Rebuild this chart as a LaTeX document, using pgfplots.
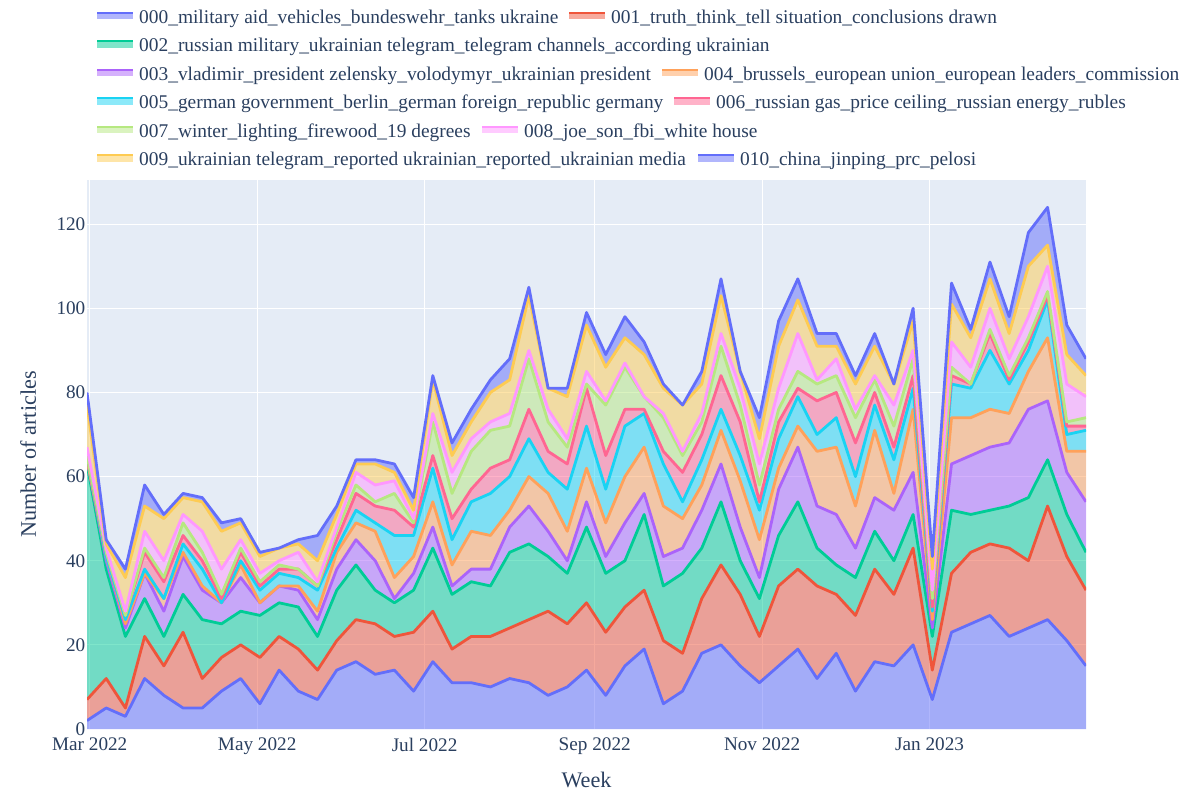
\documentclass[border=0pt]{standalone}
\usepackage{fontspec}
\setmainfont{Liberation Serif}
\usepackage{pgfplots}
\pgfplotsset{compat=1.18}
\usepackage{pgfplotstable}
\usepgfplotslibrary{fillbetween}

\definecolor{bgc}{HTML}{E5ECF6}
\definecolor{txt}{HTML}{2A3F5F}
\definecolor{k0}{HTML}{636EFA}
\definecolor{k1}{HTML}{EF553B}
\definecolor{k2}{HTML}{00CC96}
\definecolor{k3}{HTML}{AB63FA}
\definecolor{k4}{HTML}{FFA15A}
\definecolor{k5}{HTML}{19D3F3}
\definecolor{k6}{HTML}{FF6692}
\definecolor{k7}{HTML}{B6E880}
\definecolor{k8}{HTML}{FF97FF}
\definecolor{k9}{HTML}{FECB52}
\definecolor{k10}{HTML}{636EFA}

% d = days since 1 Mar 2022 (weekly, Mondays); c0..c10 = stacked totals of topics 000..010
\pgfplotstableread{
d c0 c1 c2 c3 c4 c5 c6 c7 c8 c9 c10
-1 2 7 63 64 64 65 65 65 67 77 80
6 5 12 38 40 41 41 42 42 43 44 45
13 3 5 22 24 25 26 27 27 28 36 38
20 12 22 31 37 37 38 42 43 47 53 58
27 8 15 22 28 31 31 35 36 40 50 51
34 5 23 32 41 42 44 46 49 51 55 56
41 5 12 26 33 34 38 40 42 47 54 55
48 9 17 25 30 30 30 31 32 38 47 49
55 12 20 28 36 39 40 42 43 45 49 50
62 6 17 27 30 30 33 34 35 37 41 42
69 14 22 30 34 34 37 38 39 40 43 43
76 9 19 29 33 34 36 38 38 42 44 45
83 7 14 22 26 28 33 34 34 35 40 46
90 14 21 33 38 42 43 45 47 48 51 53
97 16 26 39 45 49 52 56 58 61 63 64
104 13 25 33 40 47 49 53 54 58 63 64
111 14 22 30 31 36 46 52 56 59 61 63
118 9 23 33 37 41 46 48 49 50 52 55
125 16 28 43 48 54 62 65 73 75 83 84
132 11 19 32 34 39 45 50 56 61 65 68
139 11 22 35 38 47 54 57 66 69 73 76
146 10 22 34 38 46 56 62 71 73 80 83
153 12 24 42 48 52 60 64 72 75 83 88
160 11 26 44 53 60 69 76 88 90 103 105
167 8 28 41 47 56 61 66 73 76 81 81
174 10 25 37 40 47 57 63 67 69 79 81
181 14 30 48 54 62 72 81 82 85 96 99
188 8 23 37 41 49 57 65 77 78 86 89
195 15 29 40 49 60 72 76 86 87 93 98
202 19 33 51 56 67 75 76 79 79 89 92
209 6 21 34 41 53 63 66 74 75 81 82
216 9 18 37 43 50 54 61 65 66 77 77
223 18 31 43 52 58 64 70 73 75 82 85
230 20 39 54 63 71 76 84 91 94 103 107
237 15 32 40 48 59 65 73 77 81 85 85
244 11 22 31 36 45 52 54 58 63 69 74
251 15 34 46 57 62 69 73 76 81 91 97
258 19 38 54 67 72 79 81 85 94 102 107
265 12 34 43 53 66 70 78 82 83 91 94
272 18 32 39 51 67 74 80 84 88 91 94
279 9 27 36 43 53 60 68 74 76 82 84
286 16 38 47 55 71 77 80 83 84 91 94
293 15 32 40 52 56 64 67 72 77 82 82
300 20 43 51 61 76 81 84 88 90 97 100
307 7 14 22 24 26 28 29 31 33 38 41
314 23 37 52 63 74 82 84 86 92 101 106
321 25 42 51 65 74 81 82 82 86 93 95
328 27 44 52 67 76 90 94 95 100 107 111
335 22 43 53 68 75 82 83 84 88 94 98
342 24 40 55 76 85 90 92 93 98 110 118
349 26 53 64 78 93 102 103 104 110 115 124
356 21 41 51 61 66 70 72 73 82 89 96
363 15 33 42 54 66 71 72 74 79 84 88
}\data

\newcommand{\legitem}[4]{%
  \fill[#3, fill opacity=0.5] (#1,{796-#2+4}) rectangle ({#1+36},{796-#2+11.6});
  \draw[#3, line width=2pt] (#1,{796-#2+10.6}) -- ({#1+36},{796-#2+10.6});
  \node[anchor=base west, inner sep=0pt, text=txt, font=\fontsize{19.4}{22}\selectfont] at ({#1+42},{796-#2}) {#4};
}

\begin{document}
\begin{tikzpicture}
\begin{axis}[
  at={(87pt,67pt)}, anchor=south west,
  scale only axis, width=999pt, height=549pt,
  xmin=-1, xmax=363, ymin=0, ymax=130.5,
  axis background/.style={fill=bgc},
  axis line style={draw=none},
  major tick length=0pt,
  grid=major, major grid style={white, line width=1pt},
  xtick={0,61,122,184,245,306},
  xticklabels={Mar 2022,May 2022,Jul 2022,Sep 2022,Nov 2022,Jan 2023},
  ytick={0,20,...,120},
  tick label style={font=\fontsize{19.2}{22}\selectfont, text=txt},
  /pgf/number format/assume math mode=true,
  xticklabel style={inner ysep=0pt, yshift=-9pt},
  yticklabel style={inner xsep=0pt, xshift=-1.5pt},
  xlabel={Week}, ylabel={Number of articles},
  label style={font=\fontsize{22.2}{26}\selectfont, text=txt},
  xlabel style={at={(axis description cs:0.5,-0.0929)}, anchor=center},
  ylabel style={at={(axis description cs:-0.059,0.5)}, anchor=center},
]
\addplot[draw=none, name path=B] coordinates {(-1,0) (363,0)};
\addplot[draw=none, name path=L0] table[x=d,y=c0]{\data};
\addplot[draw=none, name path=L1] table[x=d,y=c1]{\data};
\addplot[draw=none, name path=L2] table[x=d,y=c2]{\data};
\addplot[draw=none, name path=L3] table[x=d,y=c3]{\data};
\addplot[draw=none, name path=L4] table[x=d,y=c4]{\data};
\addplot[draw=none, name path=L5] table[x=d,y=c5]{\data};
\addplot[draw=none, name path=L6] table[x=d,y=c6]{\data};
\addplot[draw=none, name path=L7] table[x=d,y=c7]{\data};
\addplot[draw=none, name path=L8] table[x=d,y=c8]{\data};
\addplot[draw=none, name path=L9] table[x=d,y=c9]{\data};
\addplot[draw=none, name path=L10] table[x=d,y=c10]{\data};

\addplot[fill=k0, fill opacity=0.5, draw=none] fill between[of=L0 and B];
\addplot[k0, line width=2.8pt, line join=round] table[x=d,y=c0]{\data};
\addplot[fill=k1, fill opacity=0.5, draw=none] fill between[of=L1 and L0];
\addplot[k1, line width=2.8pt, line join=round] table[x=d,y=c1]{\data};
\addplot[fill=k2, fill opacity=0.5, draw=none] fill between[of=L2 and L1];
\addplot[k2, line width=2.8pt, line join=round] table[x=d,y=c2]{\data};
\addplot[fill=k3, fill opacity=0.5, draw=none] fill between[of=L3 and L2];
\addplot[k3, line width=2.8pt, line join=round] table[x=d,y=c3]{\data};
\addplot[fill=k4, fill opacity=0.5, draw=none] fill between[of=L4 and L3];
\addplot[k4, line width=2.8pt, line join=round] table[x=d,y=c4]{\data};
\addplot[fill=k5, fill opacity=0.5, draw=none] fill between[of=L5 and L4];
\addplot[k5, line width=2.8pt, line join=round] table[x=d,y=c5]{\data};
\addplot[fill=k6, fill opacity=0.5, draw=none] fill between[of=L6 and L5];
\addplot[k6, line width=2.8pt, line join=round] table[x=d,y=c6]{\data};
\addplot[fill=k7, fill opacity=0.5, draw=none] fill between[of=L7 and L6];
\addplot[k7, line width=2.8pt, line join=round] table[x=d,y=c7]{\data};
\addplot[fill=k8, fill opacity=0.5, draw=none] fill between[of=L8 and L7];
\addplot[k8, line width=2.8pt, line join=round] table[x=d,y=c8]{\data};
\addplot[fill=k9, fill opacity=0.5, draw=none] fill between[of=L9 and L8];
\addplot[k9, line width=2.8pt, line join=round] table[x=d,y=c9]{\data};
\addplot[fill=k10, fill opacity=0.5, draw=none] fill between[of=L10 and L9];
\addplot[k10, line width=2.8pt, line join=round] table[x=d,y=c10]{\data};
\end{axis}
\begin{scope}[x=1pt,y=1pt]
\legitem{97}{23.3}{k0}{000\_military aid\_vehicles\_bundeswehr\_tanks ukraine}
\legitem{569}{23.3}{k1}{001\_truth\_think\_tell situation\_conclusions drawn}
\legitem{97}{51.8}{k2}{002\_russian military\_ukrainian telegram\_telegram channels\_according ukrainian}
\legitem{97}{80.3}{k3}{003\_vladimir\_president zelensky\_volodymyr\_ukrainian president}
\legitem{662}{80.3}{k4}{004\_brussels\_european union\_european leaders\_commission}
\legitem{97}{108.8}{k5}{005\_german government\_berlin\_german foreign\_republic germany}
\legitem{674}{108.8}{k6}{006\_russian gas\_price ceiling\_russian energy\_rubles}
\legitem{97}{137.3}{k7}{007\_winter\_lighting\_firewood\_19 degrees}
\legitem{482}{137.3}{k8}{008\_joe\_son\_fbi\_white house}
\legitem{97}{165.8}{k9}{009\_ukrainian telegram\_reported ukrainian\_reported\_ukrainian media}
\legitem{698}{165.8}{k10}{010\_china\_jinping\_prc\_pelosi}
\path (0,0) rectangle (1190,796);
\end{scope}
\end{tikzpicture}
\end{document}
